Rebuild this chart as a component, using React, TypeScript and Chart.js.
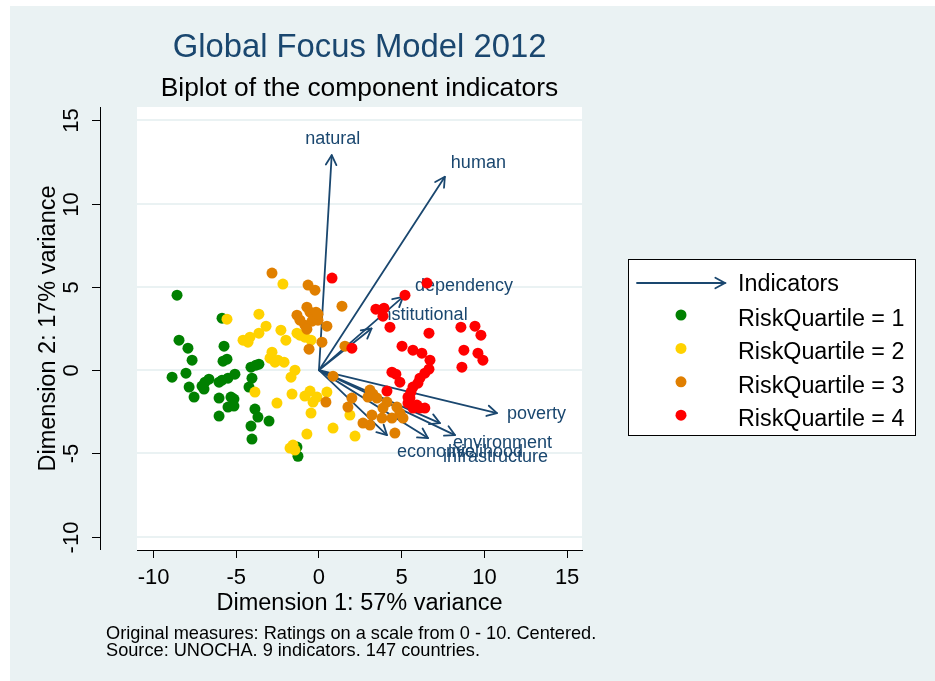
import React, { useEffect, useRef } from 'react';
import { Chart, registerables } from 'chart.js';

Chart.register(...registerables);

// ---------------- data ----------------
const chartTitle = 'Global Focus Model 2012';
const chartSubtitle = 'Biplot of the component indicators';
const xAxisTitle = 'Dimension 1: 57% variance';
const yAxisTitle = 'Dimension 2: 17% variance';
const footnoteLines = [
  'Original measures: Ratings on a scale from 0 - 10. Centered.',
  'Source: UNOCHA. 9 indicators. 147 countries.',
];
const xTickValues = [-10, -5, 0, 5, 10, 15];
const yTickValues = [-10, -5, 0, 5, 10, 15];
const arrowLegendName = 'Indicators';
const seriesNames = ['RiskQuartile = 1', 'RiskQuartile = 2', 'RiskQuartile = 3', 'RiskQuartile = 4'];

const q1X = [-8.58, -5.86, -8.46, -7.92, -7.67, -5.74, -5.80, -5.56, -8.88, -8.04, -7.85, -7.55, -7.07, -6.89, -6.65, -6.95, -6.04, -5.86, -5.50, -5.08, -6.04, -5.32, -5.14, -5.50, -5.14, -6.04, -4.11, -3.81, -3.63, -4.05, -4.23, -3.87, -3.69, -4.11, -3.02, -4.05, -1.33, -1.27];
const q1Y = [4.50, 3.12, 1.80, 1.32, 0.60, 1.44, 0.54, 0.66, -0.42, -0.18, -1.02, -1.62, -0.96, -0.72, -0.54, -1.14, -0.72, -0.60, -0.48, -0.24, -1.68, -1.62, -1.74, -2.22, -2.16, -2.76, 0.18, 0.30, 0.36, -0.48, -1.02, -2.34, -2.82, -3.36, -3.06, -4.14, -4.62, -5.17];

const q2X = [-2.18, -5.56, -3.63, -3.20, -3.63, -4.17, -4.59, -4.29, -2.30, -2.00, -1.33, -1.15, -0.85, -0.48, -2.84, -2.96, -2.66, -2.48, -2.11, -1.45, -1.69, -3.87, -2.54, -1.63, -0.85, -0.54, -0.36, -0.12, 0.48, -0.48, -0.73, 0.85, 1.87, 2.18, -1.57, -1.75, -1.45];
const q2Y = [5.17, 3.06, 3.36, 2.64, 2.22, 1.98, 1.80, 1.68, 2.40, 1.80, 2.22, 2.10, 1.98, 1.80, 1.08, 0.72, 0.48, 0.60, 0.48, 0.00, -0.42, -1.32, -1.98, -1.44, -1.56, -1.26, -1.92, -1.62, -1.32, -2.58, -3.84, -3.48, -2.70, -3.96, -4.50, -4.68, -4.80];

const q3X = [-2.84, -0.66, -0.24, 1.39, -1.33, -0.73, -0.54, -0.18, -0.85, -0.42, -0.06, 0.48, -0.73, 0.18, -0.60, 1.57, 0.85, 0.42, 1.99, 1.75, 3.08, 3.26, 2.96, 3.50, 4.11, 3.87, 4.71, 4.89, 5.08, 4.41, 3.81, 3.20, 3.08, 2.66, 4.59, -0.06, -1.15];
const q3Y = [5.83, 5.11, 4.80, 3.84, 3.30, 3.78, 3.48, 3.48, 2.70, 2.94, 3.00, 2.64, 2.46, 1.68, 1.26, 1.44, -0.36, -1.92, -1.68, -2.22, -1.20, -1.44, -1.62, -1.68, -1.92, -2.28, -2.22, -2.58, -2.88, -2.88, -2.88, -2.70, -3.30, -3.18, -3.78, 3.36, 3.00];

const q4X = [0.79, 6.53, 5.20, 3.44, 3.93, 3.87, 4.29, 6.65, 8.58, 9.43, 9.79, 1.99, 5.02, 5.68, 6.22, 6.71, 6.65, 8.76, 9.61, 9.91, 8.64, 4.41, 4.65, 4.89, 6.40, 6.10, 5.98, 4.11, 5.56, 5.68, 5.50, 5.38, 5.92, 6.10, 6.40, 5.68, 5.38];
const q4Y = [5.53, 5.23, 4.50, 3.66, 3.72, 3.24, 2.58, 2.22, 2.58, 2.64, 2.10, 1.32, 1.44, 1.20, 1.02, 0.60, 0.06, 1.20, 1.02, 0.60, 0.18, -0.12, -0.24, -0.72, -0.18, -0.48, -0.78, -1.26, -1.32, -1.02, -1.68, -1.98, -2.10, -2.28, -2.28, -2.28, -1.62];

const indicatorNames = ['natural', 'human', 'dependency', 'institutional', 'poverty', 'environment', 'infrastructure', 'livelihood', 'economic'];
const indicatorX = [0.77, 7.61, 5.08, 3.18, 10.76, 7.31, 8.22, 6.59, 4.11];
const indicatorY = [12.91, 11.61, 4.40, 2.50, -2.58, -3.18, -3.90, -4.08, -3.90];

// ---------------- style ----------------
const FONT = '"Liberation Sans", Arial, Helvetica, sans-serif';
const NAVY = '#1A476F';
const BG = '#EAF2F3';
const seriesColors = ['#008000', '#FFD200', '#E07F00', '#FF0000'];
// pixel offsets of each indicator label from its arrow tip, and alignment
const labelPlacement: [number, number, CanvasTextAlign][] = [
  [1, -16, 'center'],
  [6, -14, 'left'],
  [12, -11, 'left'],
  [6, -13, 'left'],
  [10, 1, 'left'],
  [13, 20, 'left'],
  [-12, 22, 'left'],
  [20, 14, 'left'],
  [10, 17, 'left'],
];

function drawHead(ctx: CanvasRenderingContext2D, fx: number, fy: number, tx: number, ty: number) {
  const ang = Math.atan2(ty - fy, tx - fx);
  const len = 11;
  const spread = 0.5;
  ctx.beginPath();
  ctx.moveTo(tx - len * Math.cos(ang - spread), ty - len * Math.sin(ang - spread));
  ctx.lineTo(tx, ty);
  ctx.lineTo(tx - len * Math.cos(ang + spread), ty - len * Math.sin(ang + spread));
  ctx.stroke();
}

export default function App() {
  const ref = useRef<HTMLCanvasElement>(null);

  useEffect(() => {
    const canvas = ref.current;
    if (!canvas) return;
    const toPts = (xs: number[], ys: number[]) => xs.map((x, i) => ({ x, y: ys[i] }));
    const series = [toPts(q1X, q1Y), toPts(q2X, q2Y), toPts(q3X, q3Y), toPts(q4X, q4Y)];

    const decor = {
      id: 'stataDecor',
      beforeDraw(chart: any) {
        const { ctx, chartArea: a } = chart;
        ctx.save();
        ctx.fillStyle = '#FFFFFF';
        ctx.fillRect(0, 0, chart.width, chart.height);
        ctx.fillStyle = BG;
        ctx.fillRect(10, 6, chart.width - 10, chart.height - 6);
        ctx.fillStyle = '#FFFFFF';
        ctx.fillRect(a.left, a.top, a.right - a.left, a.bottom - a.top);
        ctx.restore();
      },
      beforeDatasetsDraw(chart: any) {
        const { ctx } = chart;
        const xs = chart.scales.x;
        const ys = chart.scales.y;
        const ox = xs.getPixelForValue(0);
        const oy = ys.getPixelForValue(0);
        ctx.save();
        ctx.strokeStyle = NAVY;
        ctx.lineWidth = 1.8;
        ctx.lineCap = 'round';
        ctx.lineJoin = 'round';
        indicatorNames.forEach((name, i) => {
          const tx = xs.getPixelForValue(indicatorX[i]);
          const ty = ys.getPixelForValue(indicatorY[i]);
          ctx.beginPath();
          ctx.moveTo(ox, oy);
          ctx.lineTo(tx, ty);
          ctx.stroke();
          drawHead(ctx, ox, oy, tx, ty);
        });
        ctx.fillStyle = NAVY;
        ctx.font = `18px ${FONT}`;
        ctx.textBaseline = 'middle';
        indicatorNames.forEach((name, i) => {
          const tx = xs.getPixelForValue(indicatorX[i]);
          const ty = ys.getPixelForValue(indicatorY[i]);
          const [dx, dy, al] = labelPlacement[i];
          ctx.textAlign = al;
          ctx.fillText(name, tx + dx, ty + dy);
        });
        ctx.restore();
      },
      afterDraw(chart: any) {
        const { ctx, chartArea: a } = chart;
        const ys = chart.scales.y;
        const cx = (a.left + a.right) / 2;
        const cy = (a.top + a.bottom) / 2;
        ctx.save();
        // titles
        ctx.textAlign = 'center';
        ctx.textBaseline = 'middle';
        ctx.fillStyle = NAVY;
        ctx.font = `32.8px ${FONT}`;
        ctx.fillText(chartTitle, cx, 48);
        ctx.fillStyle = '#000000';
        ctx.font = `26.4px ${FONT}`;
        ctx.fillText(chartSubtitle, cx, 89);

        // y axis
        const axX = 100.5;
        ctx.strokeStyle = '#000000';
        ctx.lineWidth = 1;
        ctx.beginPath();
        ctx.moveTo(axX, a.top);
        ctx.lineTo(axX, a.bottom);
        ctx.stroke();
        ctx.font = `22px ${FONT}`;
        yTickValues.forEach((v) => {
          const py = Math.round(ys.getPixelForValue(v)) + 0.5;
          ctx.beginPath();
          ctx.moveTo(92, py);
          ctx.lineTo(axX, py);
          ctx.stroke();
          ctx.save();
          ctx.translate(72, py);
          ctx.rotate(-Math.PI / 2);
          ctx.textAlign = 'center';
          ctx.textBaseline = 'middle';
          ctx.fillText(String(v), 0, 0);
          ctx.restore();
        });
        ctx.save();
        ctx.translate(49, cy);
        ctx.rotate(-Math.PI / 2);
        ctx.font = `23.5px ${FONT}`;
        ctx.textAlign = 'center';
        ctx.textBaseline = 'middle';
        ctx.fillText(yAxisTitle, 0, 0);
        ctx.restore();

        // footnote
        ctx.textAlign = 'left';
        ctx.textBaseline = 'middle';
        ctx.font = `18.2px ${FONT}`;
        footnoteLines.forEach((t, i) => ctx.fillText(t, 106, 633.5 + i * 17));

        // legend
        const lx = 628.5, ly = 259.5, lw = 287, lh = 176;
        ctx.fillStyle = '#FFFFFF';
        ctx.fillRect(lx, ly, lw, lh);
        ctx.strokeStyle = '#000000';
        ctx.lineWidth = 1;
        ctx.strokeRect(lx, ly, lw, lh);
        ctx.strokeStyle = NAVY;
        ctx.lineWidth = 1.8;
        ctx.lineCap = 'round';
        ctx.beginPath();
        ctx.moveTo(637, 283);
        ctx.lineTo(725, 283);
        ctx.stroke();
        drawHead(ctx, 637, 283, 725, 283);
        ctx.font = `23.3px ${FONT}`;
        ctx.fillStyle = '#000000';
        ctx.textBaseline = 'alphabetic';
        ctx.fillText(arrowLegendName, 738, 291);
        seriesNames.forEach((n, i) => {
          const ry = 315 + i * 33.4;
          ctx.fillStyle = seriesColors[i];
          ctx.beginPath();
          ctx.arc(681, ry, 5.5, 0, Math.PI * 2);
          ctx.fill();
          ctx.fillStyle = '#000000';
          ctx.fillText(n, 738, ry + 11);
        });
        ctx.restore();
      },
    };

    const chart = new Chart(canvas, {
      type: 'scatter',
      data: {
        datasets: series.map((pts, i) => ({
          label: seriesNames[i],
          data: pts,
          backgroundColor: seriesColors[i],
          borderColor: seriesColors[i],
          pointRadius: 5.5,
          pointBorderWidth: 0,
          pointHoverRadius: 5.5,
          order: 4 - i,
        })),
      },
      options: {
        responsive: false,
        maintainAspectRatio: false,
        animation: false,
        devicePixelRatio: 1,
        events: [],
        layout: { padding: { left: 0, top: 107, right: 353, bottom: 0 } },
        plugins: {
          legend: { display: false },
          tooltip: { enabled: false },
          title: { display: false },
        },
        scales: {
          x: {
            type: 'linear',
            min: -11,
            max: 15.9,
            afterFit: (s: any) => { s.height = 131; },
            afterBuildTicks: (s: any) => { s.ticks = xTickValues.map((v) => ({ value: v })); },
            ticks: {
              color: '#000000',
              font: { family: FONT, size: 22 },
              padding: 7,
              maxRotation: 0,
              autoSkip: false,
              callback: (v: any) => String(v),
            },
            grid: { drawOnChartArea: false, drawTicks: true, tickLength: 8, color: '#000000', lineWidth: 1 },
            border: { display: true, color: '#000000', width: 1 },
            title: {
              display: true,
              text: xAxisTitle,
              color: '#000000',
              font: { family: FONT, size: 23.5 },
              padding: { top: 0, bottom: 63 },
            },
          },
          y: {
            type: 'linear',
            min: -10.8,
            max: 15.8,
            afterFit: (s: any) => { s.width = 137; },
            afterBuildTicks: (s: any) => { s.ticks = yTickValues.map((v) => ({ value: v })); },
            ticks: { display: false },
            grid: { color: BG, lineWidth: 2, drawTicks: false },
            border: { display: false },
          },
        },
      },
      plugins: [decor],
    });

    return () => chart.destroy();
  }, []);

  return (
    <div style={{ position: 'fixed', left: 0, top: 0, width: 935, height: 681 }}>
      <canvas ref={ref} width={935} height={681} style={{ display: 'block', width: 935, height: 681 }} />
    </div>
  );
}
